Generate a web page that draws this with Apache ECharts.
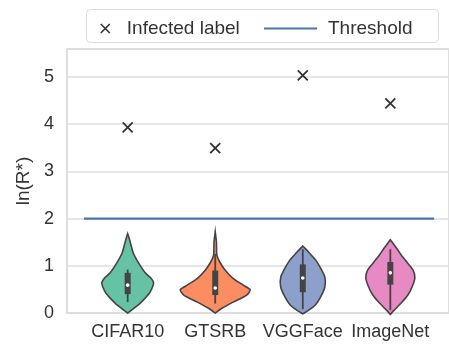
<!DOCTYPE html>
<html><head><meta charset="utf-8">
<script src="https://cdn.jsdelivr.net/npm/echarts@6/dist/echarts.min.js"></script>
<style>html,body{margin:0;padding:0;background:#fff}#c{width:449px;height:347px}</style>
</head><body><div id="c"></div>
<script>
const categories = ['CIFAR10', 'GTSRB', 'VGGFace', 'ImageNet'];
const infectedValues = [3.93, 3.49, 5.03, 4.44];
const thresholdValue = 2;
const thresholdSpan = [-0.5, 3.5];
const yTicks = [0, 1, 2, 3, 4, 5];
const xTicks = [0, 1, 2, 3];

// violin density profiles (level of ln(R*), relative density 0..1)
const cifarLevels   = [0, 0.06, 0.21, 0.42, 0.55, 0.64, 0.75, 0.85, 1.06, 1.27, 1.48, 1.6, 1.68];
const cifarDensity  = [0, 0.11, 0.36, 0.62, 0.71, 0.74, 0.65, 0.50, 0.31, 0.16, 0.08, 0.035, 0];
const gtsrbLevels   = [0, 0.1, 0.23, 0.38, 0.49, 0.59, 0.74, 0.91, 1.08, 1.23, 1.5, 1.72];
const gtsrbDensity  = [0, 0.19, 0.51, 0.90, 1.0, 0.80, 0.50, 0.28, 0.13, 0.045, 0.035, 0];
const vggLevels     = [-0.02, 0.06, 0.17, 0.34, 0.55, 0.76, 0.95, 1.12, 1.27, 1.42];
const vggDensity    = [0, 0.17, 0.36, 0.51, 0.63, 0.63, 0.51, 0.37, 0.19, 0];
const imagenetLevels  = [-0.03, 0.06, 0.21, 0.38, 0.55, 0.74, 0.91, 1.08, 1.23, 1.38, 1.55];
const imagenetDensity = [0, 0.11, 0.31, 0.50, 0.62, 0.70, 0.65, 0.47, 0.31, 0.17, 0];

// inner box stats
const whiskerLow  = [0.23, 0.2, 0.08, 0.06];
const boxQ1       = [0.40, 0.38, 0.44, 0.60];
const boxMedian   = [0.59, 0.53, 0.74, 0.85];
const boxQ3       = [0.85, 0.90, 1.03, 1.08];
const whiskerHigh = [0.92, 1.25, 1.35, 1.35];

const violinLevels = [cifarLevels, gtsrbLevels, vggLevels, imagenetLevels];
const violinDensity = [cifarDensity, gtsrbDensity, vggDensity, imagenetDensity];
const violinColors = ['#66c2a5', '#fc8d62', '#8da0cb', '#e78ac3'];

const FONT = 'Liberation Sans, Arial, sans-serif';
const TXT = '#333333';
const EDGE = '#444444';
const xPath = 'path://M0,0 L10,10 M10,0 L0,10';
const barPath = 'path://M0,0 L53,0 L53,2.2 L0,2.2 Z';

const chart = echarts.init(document.getElementById('c'), null, {renderer: 'canvas'});

function renderViolin(params, api) {
  const i = params.dataIndex;
  const lv = violinLevels[i], dn = violinDensity[i];
  const pts = [];
  for (let k = 0; k < lv.length; k++) pts.push(api.coord([i + 0.4 * dn[k], lv[k]]));
  for (let k = lv.length - 1; k >= 0; k--) pts.push(api.coord([i - 0.4 * dn[k], lv[k]]));
  const lo = api.coord([i, whiskerLow[i]]), hi = api.coord([i, whiskerHigh[i]]);
  const q1 = api.coord([i, boxQ1[i]]), q3 = api.coord([i, boxQ3[i]]);
  const md = api.coord([i, boxMedian[i]]);
  return {
    type: 'group',
    children: [
      {type: 'polygon', shape: {points: pts, smooth: 0.2},
       style: {fill: violinColors[i], stroke: EDGE, lineWidth: 1.6}},
      {type: 'line', shape: {x1: lo[0], y1: lo[1], x2: hi[0], y2: hi[1]},
       style: {stroke: EDGE, lineWidth: 1.8}},
      {type: 'rect', shape: {x: q1[0] - 3, y: q3[1], width: 6, height: q1[1] - q3[1]},
       style: {fill: EDGE}},
      {type: 'circle', shape: {cx: md[0], cy: md[1], r: 1.8}, style: {fill: '#ffffff'}}
    ]
  };
}

chart.setOption({
  animation: false,
  backgroundColor: '#ffffff',
  textStyle: {fontFamily: FONT},
  grid: {left: 67, right: -2, top: 49, bottom: 34, show: true, borderColor: '#d4d4d4', borderWidth: 1.5},
  graphic: [{
    type: 'rect', left: 86, top: 9, z: -1,
    shape: {width: 352, height: 33, r: 4},
    style: {fill: '#ffffff', stroke: '#dcdcdc', lineWidth: 1}
  }],
  legend: [{
    left: 100, top: 19, padding: 0,
    data: [{name: 'Infected label', icon: xPath,
            itemStyle: {color: 'transparent', borderColor: '#333', borderWidth: 1.6}}],
    itemWidth: 9, itemHeight: 14,
    textStyle: {fontSize: 19, color: TXT, fontFamily: FONT, padding: [0, 0, 0, 12]}
  }, {
    left: 264, top: 19, padding: 0,
    data: [{name: 'Threshold', icon: barPath}],
    itemWidth: 53, itemHeight: 14,
    textStyle: {fontSize: 19, color: TXT, fontFamily: FONT, padding: [0, 0, 0, 6]}
  }],
  xAxis: {
    type: 'value', min: -0.693, max: 3.67,
    axisLine: {show: false}, axisTick: {show: false}, splitLine: {show: false},
    axisLabel: {customValues: xTicks, formatter: v => categories[v], fontSize: 18, color: TXT, margin: 10, fontFamily: FONT}
  },
  yAxis: {
    type: 'value', min: 0, max: 5.59, interval: 1,
    name: 'ln(R*)', nameLocation: 'middle', nameGap: 32,
    nameTextStyle: {fontSize: 19, color: TXT, fontFamily: FONT},
    axisLine: {show: false}, axisTick: {show: false},
    splitLine: {lineStyle: {color: '#dedede', width: 1.5}},
    axisLabel: {customValues: yTicks, fontSize: 18, color: TXT, margin: 13, fontFamily: FONT}
  },
  series: [
    {
      name: 'Threshold', type: 'line', symbol: 'none', z: 3,
      data: [[thresholdSpan[0], thresholdValue], [thresholdSpan[1], thresholdValue]],
      lineStyle: {color: '#4c72b0', width: 2.2}, itemStyle: {color: '#4c72b0'}
    },
    {
      name: 'Infected label', type: 'scatter', symbol: xPath, symbolSize: 10, z: 4,
      data: infectedValues.map((v, i) => [i, v]),
      itemStyle: {color: 'transparent', borderColor: '#333', borderWidth: 1.8, opacity: 1}
    },
    {
      name: 'violins', type: 'custom', z: 5, clip: false,
      data: categories.map((c, i) => [i, 0]),
      renderItem: renderViolin
    }
  ]
});
</script></body></html>
